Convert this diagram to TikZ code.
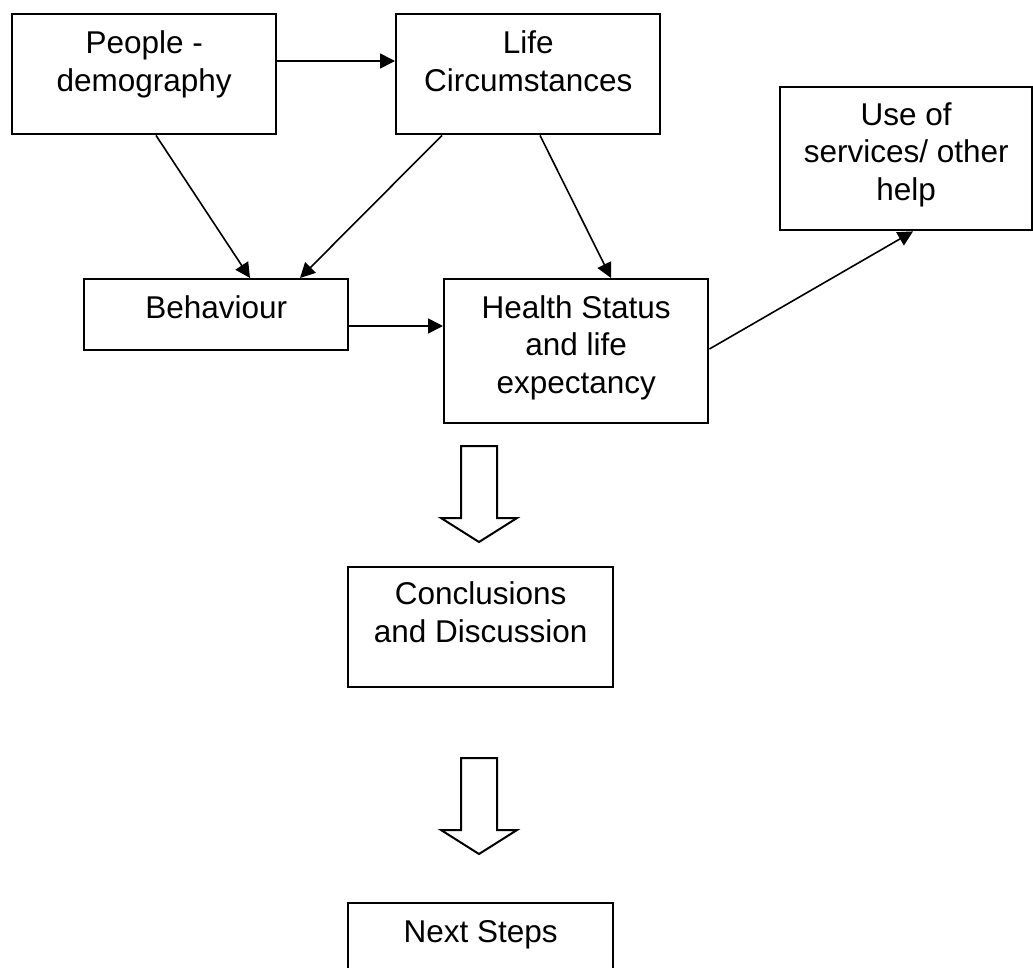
\documentclass[tikz,border=0pt]{standalone}
\usepackage{fontspec}
\setmainfont{Liberation Sans}
\usetikzlibrary{arrows.meta,calc}
\begin{document}
\begin{tikzpicture}[x=1pt,y=-1pt,
  box/.style={draw,line width=2.4pt,inner sep=0pt,anchor=north west},
  lbl/.style={font=\fontsize{31.5}{37.5}\selectfont,align=center,anchor=base,inner sep=0pt},
  conn/.style={line width=1.6pt,-{Triangle[length=15pt,width=15pt]}},
  blockarrow/.style={draw,line width=2pt,fill=white,line join=miter}]
\useasboundingbox (0,0) rectangle (1033,967);
\clip (0,0) rectangle (1033,967);
% boxes
\node[box,minimum width=264pt,minimum height=120pt] (people) at (11,13) {};
\node[box,minimum width=264pt,minimum height=120pt] (life) at (395,13) {};
\node[box,minimum width=252pt,minimum height=143pt] (use) at (779,86) {};
\node[box,minimum width=264pt,minimum height=71pt] (behav) at (83,278) {};
\node[box,minimum width=264pt,minimum height=144pt] (health) at (443,278) {};
\node[box,minimum width=265pt,minimum height=120pt] (concl) at (347,566) {};
\node[box,minimum width=265pt,minimum height=120pt] (next) at (347,902) {};
% labels (anchor = baseline of last line)
\node[lbl] (tpeople) at ($(people.north)+(0,78)$) {People -\\demography};
\node[lbl] (tlife) at ($(life.north)+(0,78)$) {Life\\Circumstances};
\node[lbl] (tuse) at ($(use.north)+(0,114)$) {Use of\\services/ other\\help};
\node[lbl] (tbehav) at ($(behav.north)+(0,40)$) {Behaviour};
\node[lbl] (thealth) at ($(health.north)+(0,115)$) {Health Status\\and life\\expectancy};
\node[lbl] (tconcl) at ($(concl.north)+(0,76)$) {Conclusions\\and Discussion};
\node[lbl] (tnext) at ($(next.north)+(0,40)$) {Next Steps};
% connectors
\draw[conn] ($(people.north east)+(0,48)$) -- ($(life.north west)+(0,48)$);
\draw[conn] ($(people.south west)+(145,0)$) -- ($(behav.north west)+(167,0)$);
\draw[conn] ($(life.south west)+(47,0)$) -- ($(behav.north west)+(217,0)$);
\draw[conn] ($(life.south west)+(145,0)$) -- ($(health.north west)+(168,0)$);
\draw[conn] ($(behav.north east)+(0,48)$) -- ($(health.north west)+(0,48)$);
\draw[conn] ($(health.north east)+(0,71)$) -- ($(use.south west)+(134,0)$);
% block arrows
\coordinate (ba1) at (479,446);
\coordinate (ba2) at (479,758);
\foreach \c in {ba1,ba2}{
  \draw[blockarrow] ($(\c)+(-18,0)$) -- ($(\c)+(-18,72)$) -- ($(\c)+(-38,72)$) -- ($(\c)+(0,96)$) -- ($(\c)+(38,72)$) -- ($(\c)+(18,72)$) -- ($(\c)+(18,0)$) -- cycle;
}
\end{tikzpicture}
\end{document}
